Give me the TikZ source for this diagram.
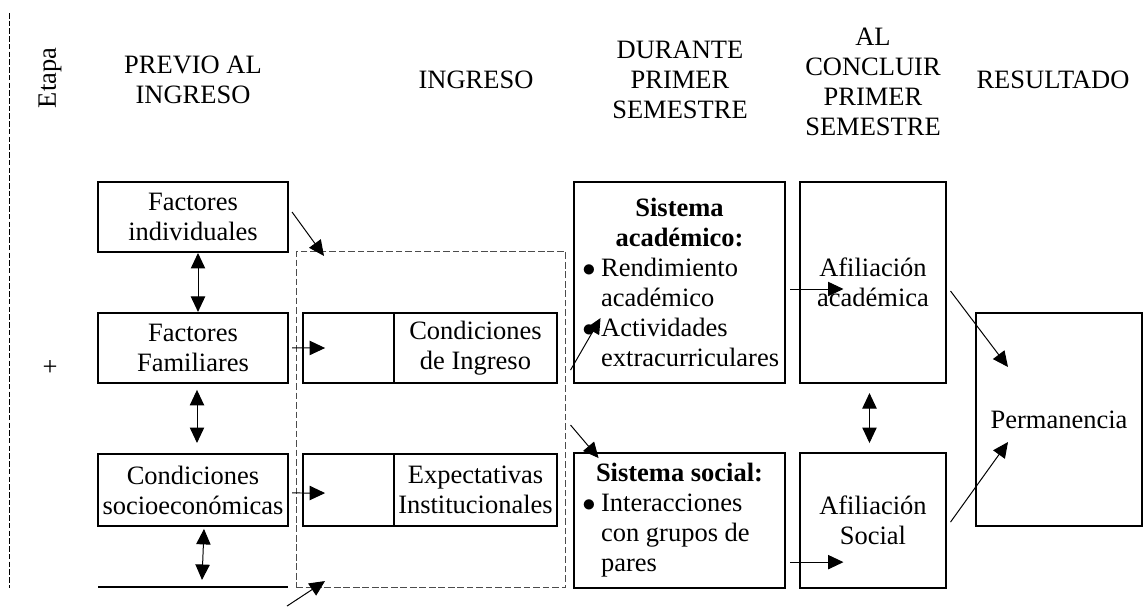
\documentclass[tikz,border=0pt]{standalone}
\usepackage{fontspec}
\setmainfont{Liberation Serif}
\usepackage{tikz}
\usetikzlibrary{arrows.meta,positioning}

\newcommand{\bul}{\hspace*{1.5pt}\makebox[8.5pt][l]{$\bullet$}}
\newcommand{\ind}{\hspace*{10pt}}

\begin{document}
\begin{tikzpicture}[
    x=0.453pt, y=-0.453pt,
    font=\fontsize{12pt}{13.6pt}\selectfont,
    head/.style={align=center, inner sep=0pt},
    box/.style={rectangle, draw=black, line width=0.9pt, outer sep=0pt, align=center, inner sep=1pt, minimum width=86.1pt, minimum height=31.7pt},
    sysbox/.style={box, align=flush left, text width=91pt, inner xsep=2.5pt, minimum height=91.1pt},
    zone/.style={rectangle, draw=black!70, line width=0.45pt, dash pattern=on 3pt off 1.3pt, outer sep=0pt, minimum width=122.3pt, minimum height=151.8pt},
    arr/.style={line width=0.45pt, -{Triangle[length=7pt,width=6.5pt]}},
    darr/.style={line width=0.45pt, {Triangle[length=7pt,width=6.5pt]}-{Triangle[length=7pt,width=6.5pt]}}
]
\useasboundingbox (0,0) rectangle (1144,607);

% Stage line and headings
\draw[line width=0.45pt, dash pattern=on 2.5pt off 1pt] (9,13) -- (9,588);
\node[head, rotate=90] (etapa) at (50,78) {Etapa};
\node[head] (plus) at (50,368) {+};
\node[head] (hprev) at (193,80) {PREVIO AL\\INGRESO};
\node[head] (hing) at (476,80) {INGRESO};
\node[head] (hdur) at (680,80) {DURANTE\\PRIMER\\SEMESTRE};
\node[head] (hconc) at (873,82) {AL\\CONCLUIR\\PRIMER\\SEMESTRE};
\node[head] (hres) at (1053,80) {RESULTADO};

% Before entry
\node[box] (indiv) at (193,217) {Factores\\individuales};
\node[box, below=27.6pt of indiv] (famil) {Factores\\Familiares};
\node[box, below=32.2pt of famil, minimum height=32.6pt] (socio) {Condiciones\\socioeconómicas};
\draw[line width=0.9pt] (98,587) -- (288,587);

% Entry
\node[zone] (ingzone) at (431,419.5) {};
\node[box, minimum width=73.8pt] (ingB1) at (475.5,348) {Condiciones\\de Ingreso};
\node[box, minimum width=41.2pt, left=0pt of ingB1] (ingA1) {};
\node[box, minimum width=73.8pt, minimum height=32.6pt, below=32.2pt of ingB1] (ingB2) {Expectativas\\Institucionales};
\node[box, minimum width=41.2pt, minimum height=32.6pt, left=0pt of ingB2] (ingA2) {};

% First semester
\node[sysbox] (acad) at (679.5,282.5) {{\centering\textbf{Sistema}\\\textbf{académico:}\par}
    \bul Rendimiento\\\ind académico\\\bul Actividades\\\ind extracurriculares};
\node[sysbox, minimum height=61.2pt, below=31.7pt of acad] (social) {{\centering\textbf{Sistema social:}\par}
    \bul Interacciones\\\ind con grupos de\\\ind pares};

% End of first semester
\node[box, minimum width=65.7pt, minimum height=91.1pt, right=6.8pt of acad] (afacad) {Afiliación\\académica};
\node[box, minimum width=65.7pt, minimum height=61.2pt, right=6.8pt of social] (afsoc) {Afiliación\\Social};

% Result
\node[box, minimum width=75.2pt, minimum height=96.5pt] (perm) at (1059,419.5) {Permanencia};

% Connections
\draw[darr] ([shift={(5,1)}]indiv.south) -- ([shift={(5,-1)}]famil.north);
\draw[darr] ([shift={(4,7)}]famil.south) -- ([shift={(4,-11)}]socio.north);
\draw[darr] ([shift={(11,3)}]socio.south) -- ([shift={(9,54)}]socio.south);
\draw[arr] ([shift={(4,-5)}]indiv.east) -- ([shift={(28,4)}]ingzone.north west);
\draw[arr] ([shift={(-9,19)}]ingzone.south west) -- ([shift={(29,-6)}]ingzone.south west);
\draw[arr] ([shift={(4,0)}]famil.east) -- ([shift={(22,0)}]ingA1.west);
\draw[arr] ([shift={(4,3)}]socio.east) -- ([shift={(22,3)}]ingA2.west);
\draw[arr] ([shift={(-3,-13)}]acad.south west) -- ([shift={(27,-65)}]acad.south west);
\draw[arr] ([shift={(-3,-28)}]social.north west) -- ([shift={(25,5)}]social.north west);
\draw[arr] ([shift={(5,6.5)}]acad.east) -- ([shift={(43,6.5)}]afacad.west);
\draw[arr] ([shift={(5,-26)}]social.south east) -- ([shift={(43,-26)}]afsoc.south west);
\draw[darr] ([shift={(-3.5,10)}]afacad.south) -- ([shift={(-3.5,-10)}]afsoc.north);
\draw[arr] ([shift={(5,8.5)}]afacad.east) -- ([shift={(32,54)}]perm.north west);
\draw[arr] ([shift={(5,1.5)}]afsoc.east) -- ([shift={(32,-84)}]perm.south west);

\end{tikzpicture}
\end{document}
